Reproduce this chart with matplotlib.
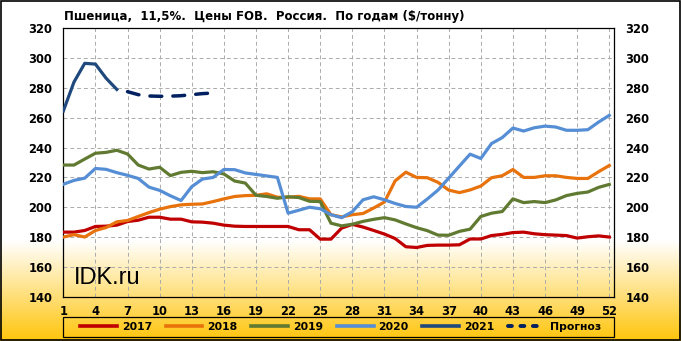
import numpy as np
import matplotlib.pyplot as plt
from matplotlib.patches import Rectangle
from matplotlib.lines import Line2D

# weekly FOB prices, $/t
weeks = np.arange(1, 53)
y2017 = [183.3, 183.3, 184.4, 187.1, 187.3, 188.0, 190.4, 191.3, 193.3, 193.3,
         192.0, 192.0, 190.2, 190.0, 189.3, 188.0, 187.3, 187.1, 187.1, 187.1,
         187.1, 187.1, 184.9, 184.9, 178.6, 178.6, 186.0, 188.5, 186.7, 184.4,
         182.0, 179.0, 173.5, 173.0, 174.4, 174.6, 174.6, 174.8, 178.7, 178.7,
         181.0, 181.8, 183.0, 183.3, 182.2, 181.6, 181.3, 181.0, 179.3, 180.2,
         180.8, 180.0]
y2018 = [180.0, 181.6, 180.0, 184.4, 186.4, 190.2, 191.1, 193.8, 196.4, 198.7,
         200.4, 201.6, 202.0, 202.2, 203.8, 205.6, 207.2, 207.8, 208.0, 209.0,
         206.7, 206.7, 207.3, 205.6, 205.6, 195.0, 193.5, 195.0, 195.8, 199.5,
         203.5, 217.7, 223.5, 220.0, 219.8, 216.7, 211.5, 209.8, 211.6, 214.2,
         219.8, 221.1, 225.3, 220.0, 220.0, 221.1, 221.1, 220.0, 219.3, 219.3,
         223.8, 228.0]
y2019 = [228.3, 228.3, 232.3, 236.2, 236.8, 238.2, 235.7, 228.3, 225.6, 226.8,
         221.2, 223.4, 224.1, 223.2, 223.8, 222.3, 217.6, 216.2, 208.0, 207.2,
         206.0, 207.0, 206.5, 204.0, 203.8, 189.3, 187.5, 188.6, 190.5, 191.9,
         193.0, 191.5, 188.8, 186.3, 184.3, 181.3, 181.2, 183.8, 185.3, 193.8,
         196.0, 197.1, 205.6, 203.1, 203.8, 203.1, 204.9, 207.8, 209.3, 210.2,
         213.3, 215.3]
y2020 = [215.4, 218.0, 219.5, 226.0, 225.4, 223.2, 221.4, 219.3, 213.5, 211.3,
         207.7, 204.5, 213.8, 218.9, 220.0, 225.3, 225.2, 223.0, 222.0, 221.0,
         220.0, 196.0, 198.0, 200.0, 199.0, 195.0, 193.0, 197.0, 205.0, 207.0,
         205.0, 202.5, 200.5, 200.0, 205.5, 211.5, 219.5, 227.6, 235.6, 232.7,
         242.7, 246.7, 253.1, 251.1, 253.3, 254.4, 253.8, 251.6, 251.6, 252.0,
         257.1, 261.6]
weeks2021 = np.arange(1, 7)
y2021 = [264.5, 284.0, 296.5, 296.0, 286.5, 279.0]
weeks_fc = np.arange(7, 16)
y_fc = [277.5, 275.5, 274.6, 274.4, 274.5, 274.8, 275.5, 276.2, 276.6]

series = [
    ('2017', y2017, '#C00000'),
    ('2018', y2018, '#E8720C'),
    ('2019', y2019, '#617A31'),
    ('2020', y2020, '#558ED5'),
]
c2021 = '#1F497D'
c_fc = '#002060'

plt.rcParams['font.family'] = 'DejaVu Sans'

W, H = 681, 341
fig = plt.figure(figsize=(W / 100, H / 100), dpi=100)

# background: white, fading into gold at the bottom
rows = np.arange(H)
t = np.clip((rows - 240) / (H - 240), 0, 1)[:, None]
white = np.array([1.0, 1.0, 1.0])
gold = np.array([1.0, 0.77, 0.04])
grad = (white * (1 - t) + gold * t)[:, None, :].repeat(2, axis=1)
bg = fig.add_axes([0, 0, 1, 1], zorder=0)
bg.imshow(grad, extent=[0, 1, 0, 1], aspect='auto', interpolation='bilinear')
bg.axis('off')
fig.patches.append(Rectangle((0.001, 0.002), 0.997, 0.995, transform=fig.transFigure,
                             fill=False, edgecolor='black', linewidth=1.2))

ax = fig.add_axes([63.3 / W, 1 - 296.7 / H, 551 / W, 268.4 / H], zorder=1)
ax.patch.set_alpha(0)

lw = 2.3
for name, vals, col in series:
    ax.plot(weeks, vals, color=col, linewidth=lw, solid_joinstyle='round', zorder=3)
ax.plot(weeks2021, y2021, color=c2021, linewidth=lw, solid_joinstyle='round', zorder=3)
ax.plot(weeks_fc, y_fc, color=c_fc, linewidth=lw + 0.2, linestyle=(0, (3.4, 3.2)),
        dash_capstyle='round', zorder=3)

ax.set_xlim(1, 52.47)
ax.set_ylim(140, 320)
ax.set_xticks(np.arange(1, 53, 3))
ax.set_yticks(np.arange(140, 321, 20))
ax.grid(True, color='#ABABAB', linestyle=(0, (4, 3)), linewidth=0.7, zorder=1)
for s in ax.spines.values():
    s.set_color('black')
    s.set_linewidth(0.9)
ax.tick_params(axis='y', length=0, pad=8, labelleft=True, labelright=True,
               labelsize=8.3)
ax.tick_params(axis='x', length=0, pad=6, labelsize=8.3)
for lab in ax.get_xticklabels() + ax.get_yticklabels():
    lab.set_fontweight('bold')

fig.text(74 / W, 1 - 284 / H, 'IDK.ru', fontsize=17, family='Liberation Sans',
         ha='left', va='baseline', zorder=5)

fig.text(64 / W, 1 - 20 / H, 'Пшеница,  11,5%.  Цены FOB.  Россия.  По годам ($/тонну)',
         fontsize=8.5, fontweight='bold', ha='left', va='baseline')

# legend box
fig.patches.append(Rectangle((63.3 / W, 1 - 337 / H), 551 / W, 20 / H,
                             transform=fig.transFigure, fill=False,
                             edgecolor='black', linewidth=0.9))
handles = [Line2D([], [], color=c, linewidth=2.6) for _, _, c in series]
handles.append(Line2D([], [], color=c2021, linewidth=2.6))
handles.append(Line2D([], [], color=c_fc, linewidth=2.8, linestyle=(0, (1.0, 2.2)),
                      dash_capstyle='round'))
labels = [s[0] for s in series] + ['2021', 'Прогноз']
leg = fig.legend(handles, labels, loc='center', ncol=6, mode='expand',
                 bbox_to_anchor=(80 / W, 1 - 337 / H, 521 / W, 20 / H),
                 frameon=False, handlelength=3.4, handletextpad=0.45,
                 borderaxespad=0, borderpad=0.0,
                 prop={'size': 7.8, 'weight': 'bold'})

fig.savefig('out.png', dpi=100)
